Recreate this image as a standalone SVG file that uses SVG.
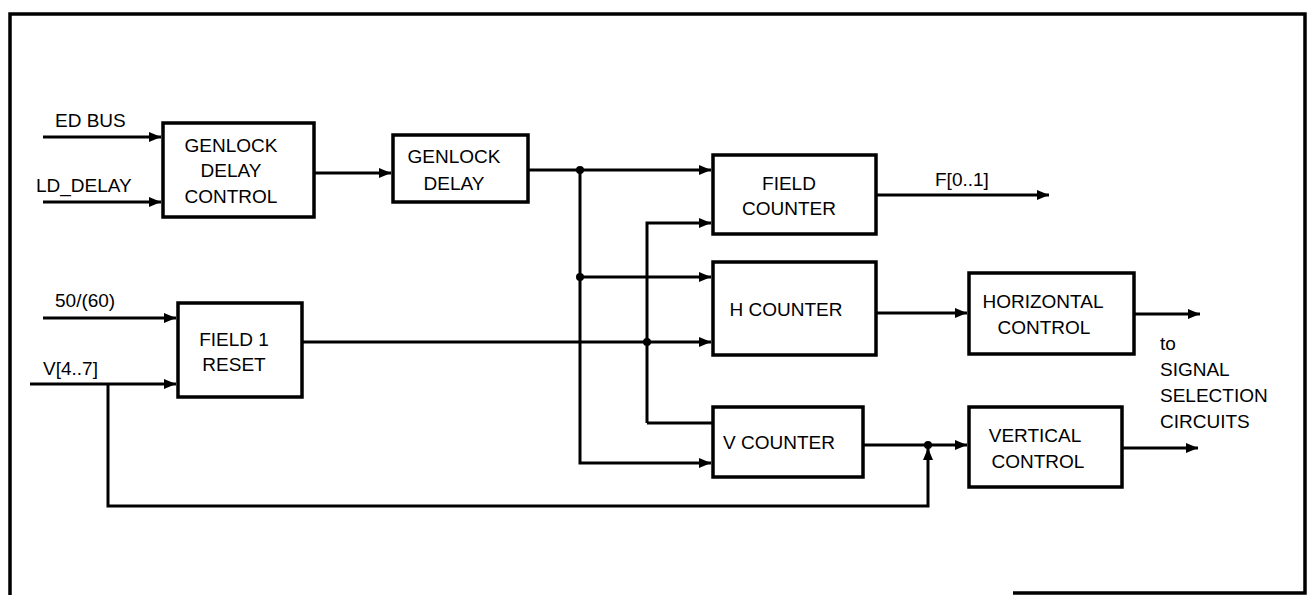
<svg xmlns="http://www.w3.org/2000/svg" width="1308" height="595" viewBox="0 0 1308 595">
<style>
.box{fill:#fff;stroke:#000;stroke-width:3.5}
.w{fill:none;stroke:#000;stroke-width:3}
text{font-family:"Liberation Sans",Arial,sans-serif;font-size:19px;fill:#000}
.m{text-anchor:middle}
</style>
<defs>
<marker id="a" markerUnits="userSpaceOnUse" markerWidth="14" markerHeight="12" refX="12" refY="6" orient="auto">
<path d="M0,1 L12,6 L0,11 z" fill="#000"/>
</marker>
</defs>
<rect width="1308" height="595" fill="#fff"/>
<g id="frame" class="w" style="stroke-width:3.5">
<path d="M10,595 V14 H1305 V593 H1013"/>
</g>
<g id="connectors">
<path class="w" d="M43,137 H161" marker-end="url(#a)"/>
<path class="w" d="M43,202 H161" marker-end="url(#a)"/>
<path class="w" d="M314,173 H391" marker-end="url(#a)"/>
<path class="w" d="M528,170 H711" marker-end="url(#a)"/>
<path class="w" d="M580,170 V463 H711" marker-end="url(#a)"/>
<path class="w" d="M580,277 H711" marker-end="url(#a)"/>
<path class="w" d="M302,342 H711" marker-end="url(#a)"/>
<path class="w" d="M647,423 H713 M647,423 V223 H711" marker-end="url(#a)"/>
<path class="w" d="M876,195 H1049" marker-end="url(#a)"/>
<path class="w" d="M876,313 H967" marker-end="url(#a)"/>
<path class="w" d="M1134,314 H1200" marker-end="url(#a)"/>
<path class="w" d="M863,445 H967" marker-end="url(#a)"/>
<path class="w" d="M1122,448 H1198" marker-end="url(#a)"/>
<path class="w" d="M43,318 H176" marker-end="url(#a)"/>
<path class="w" d="M30,384 H176" marker-end="url(#a)"/>
<path class="w" d="M108,384 V506 H928 V448" marker-end="url(#a)"/>
<circle cx="580" cy="170" r="4"/>
<circle cx="580" cy="277" r="4"/>
<circle cx="647" cy="342" r="4"/>
<circle cx="928" cy="445" r="4"/>
</g>
<g id="inputs">
<text x="55" y="127">ED BUS</text>
<text x="36" y="192">LD_DELAY</text>
<text x="55" y="307">50/(60)</text>
<text x="43" y="375">V[4..7]</text>
<text x="935" y="186">F[0..1]</text>
<text x="1160" y="350">to</text>
<text x="1160" y="376">SIGNAL</text>
<text x="1160" y="402">SELECTION</text>
<text x="1160" y="428">CIRCUITS</text>
</g>
<g id="genlock-delay-control">
<rect class="box" x="163" y="123" width="151" height="94"/>
<text class="m" x="231" y="152">GENLOCK</text>
<text class="m" x="231" y="177">DELAY</text>
<text class="m" x="231" y="203">CONTROL</text>
</g>
<g id="genlock-delay">
<rect class="box" x="393" y="135" width="135" height="67"/>
<text class="m" x="454" y="163">GENLOCK</text>
<text class="m" x="454" y="190">DELAY</text>
</g>
<g id="field-counter">
<rect class="box" x="713" y="155" width="163" height="79"/>
<text class="m" x="789" y="190">FIELD</text>
<text class="m" x="789" y="215">COUNTER</text>
</g>
<g id="h-counter">
<rect class="box" x="713" y="262" width="163" height="93"/>
<text class="m" x="786" y="316">H COUNTER</text>
</g>
<g id="v-counter">
<rect class="box" x="713" y="407" width="150" height="70"/>
<text class="m" x="779" y="449">V COUNTER</text>
</g>
<g id="field1-reset">
<rect class="box" x="178" y="303" width="124" height="94"/>
<text class="m" x="234" y="346">FIELD 1</text>
<text class="m" x="234" y="371">RESET</text>
</g>
<g id="horizontal-control">
<rect class="box" x="969" y="273" width="165" height="81"/>
<text class="m" x="1043" y="308">HORIZONTAL</text>
<text class="m" x="1044" y="334">CONTROL</text>
</g>
<g id="vertical-control">
<rect class="box" x="969" y="407" width="153" height="80"/>
<text class="m" x="1035" y="442">VERTICAL</text>
<text class="m" x="1038" y="468">CONTROL</text>
</g>
</svg>
